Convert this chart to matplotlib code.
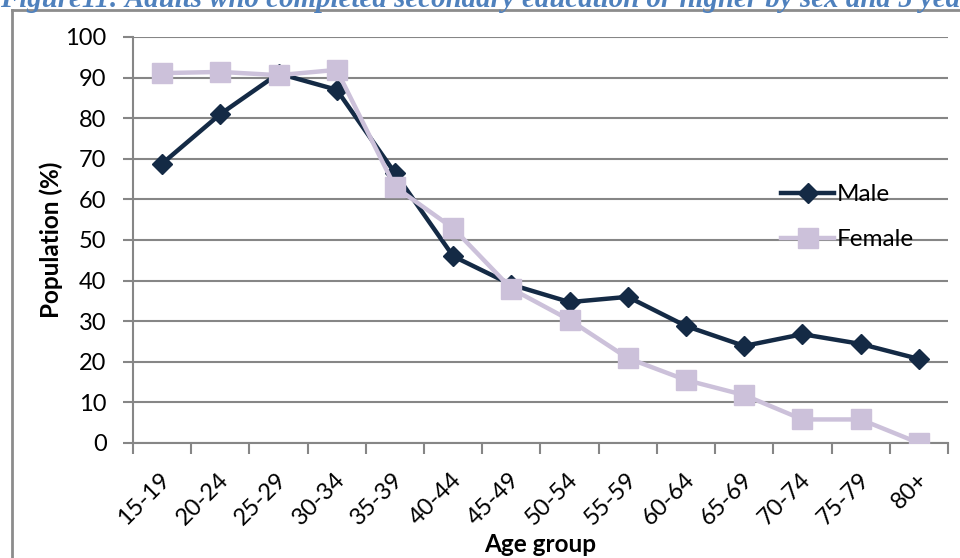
import matplotlib
matplotlib.use("Agg")
import matplotlib.pyplot as plt
from matplotlib.lines import Line2D
from matplotlib.transforms import ScaledTranslation
import numpy as np

# Share of adults with secondary education or higher, by sex and age group
age_groups = ["15-19", "20-24", "25-29", "30-34", "35-39", "40-44", "45-49",
              "50-54", "55-59", "60-64", "65-69", "70-74", "75-79", "80+"]
male = [68.8, 81.0, 91.0, 87.0, 66.5, 46.0, 39.0,
        34.7, 36.0, 28.8, 23.9, 26.8, 24.4, 20.7]
female = [91.1, 91.4, 90.6, 91.9, 63.1, 52.9, 38.0,
          30.3, 20.9, 15.5, 11.8, 5.8, 5.8, 0.0]

title = "Figure11: Adults who completed secondary education or higher by sex and 5 year age group"

plt.rcParams['font.family'] = ['Lato', 'DejaVu Sans']

fig = plt.figure(figsize=(9.6, 5.58), dpi=100)
ax = fig.add_axes([0.1385, 0.2061, 0.849, 0.7276])

grid_col = "#868686"
x = np.arange(len(age_groups))

ax.plot(x, male, color="#142a45", lw=3.2, marker="D", markersize=10.5,
        label="Male", zorder=3)
ax.plot(x, female, color="#ccc1da", lw=3.2, marker="s", markersize=14,
        label="Female", zorder=4)

ax.set_xlim(-0.5, len(age_groups) - 0.5)
ax.set_ylim(0, 100)
ax.set_yticks(np.arange(0, 101, 10))
ax.yaxis.grid(True, color=grid_col, lw=1.5)
ax.set_axisbelow(True)

# category labels sit at the centres, tick marks at the boundaries
ax.set_xticks(x)
ax.set_xticklabels(age_groups, rotation=45, ha="right", va="center",
                   rotation_mode="anchor", fontsize=17)
ax.tick_params(axis="x", which="major", length=0, pad=24)
shift = ScaledTranslation(5 / 100, 0, fig.dpi_scale_trans)
for lbl in ax.get_xticklabels():
    lbl.set_transform(lbl.get_transform() + shift)
ax.set_xticks(np.arange(-0.5, len(age_groups)), minor=True)
ax.tick_params(axis="x", which="minor", length=8, width=1.5, color=grid_col)
ax.tick_params(axis="y", length=7, width=1.5, color=grid_col, labelsize=17, pad=12)

for side in ["top", "right"]:
    ax.spines[side].set_visible(False)
for side in ["left", "bottom"]:
    ax.spines[side].set_color(grid_col)
    ax.spines[side].set_linewidth(1.5)

ax.set_ylabel("Population (%)", fontsize=17.5, fontweight="bold", labelpad=2)
ax.set_xlabel("Age group", fontsize=17.5, fontweight="bold", labelpad=3)

ax.legend(loc="center left", bbox_to_anchor=(0.783, 0.556), frameon=False,
          fontsize=17.5, handlelength=2.2, handletextpad=0.1, labelspacing=1.0,
          borderaxespad=0)

# outer chart frame (left and top edges)
fig.add_artist(Line2D([11.5 / 960, 11.5 / 960], [0, 1 - 10 / 558],
                      color="#8c8c8c", lw=2))
fig.add_artist(Line2D([11.5 / 960, 1], [1 - 10 / 558, 1 - 10 / 558],
                      color="#8c8c8c", lw=2))

fig.text(0.0, 1 - 7 / 558, title, family="Liberation Serif", style="italic",
         fontweight="bold", fontsize=20.8, color="#4f81bd", va="baseline", ha="left")

fig.savefig("out.png", dpi=100)
